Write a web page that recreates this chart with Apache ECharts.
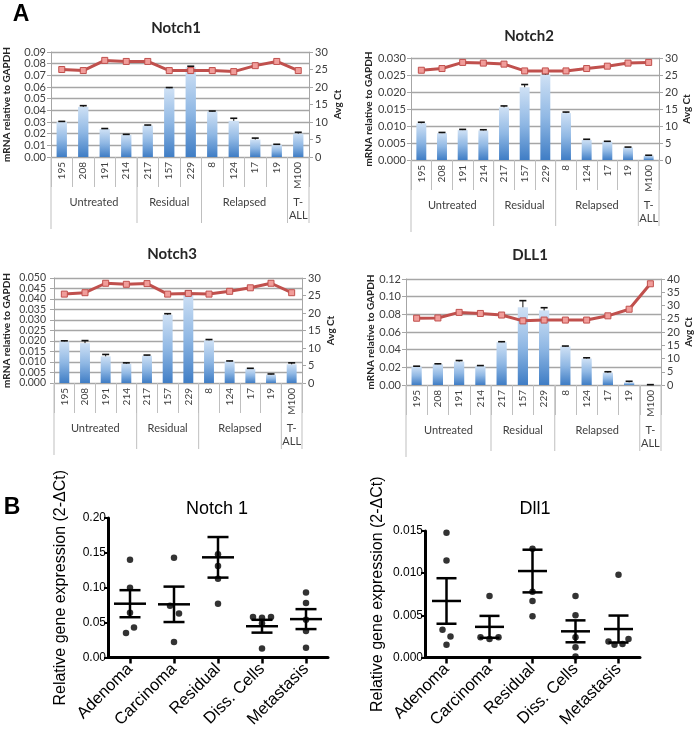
<!DOCTYPE html>
<html><head><meta charset="utf-8">
<script src="https://cdn.jsdelivr.net/npm/echarts@6/dist/echarts.min.js"></script>
<style>html,body{margin:0;padding:0;background:#fff}#c{width:699px;height:731px}</style>
</head><body><div id="c"></div>
<script>
// ---------- Panel A data ----------
const sampleIds = ['195','208','191','214','217','157','229','8','124','17','19','M100'];
const groupNames = ['Untreated','Residual','Relapsed','T-\nALL'];
const groupStart = [0,4,7,11];
const groupEnd = [4,7,11,12];

const notch1Expr = [0.030,0.043,0.024,0.019,0.027,0.059,0.077,0.039,0.031,0.015,0.0105,0.020];
const notch1Err  = [0.0005,0.001,0.0004,0.0004,0.0004,0.0005,0.0008,0.0004,0.0022,0.0012,0.0004,0.0012];
const notch1Ct   = [25.0,24.7,27.6,27.3,27.3,24.7,24.7,24.7,24.4,26.1,27.3,24.7];

const notch2Expr = [0.0108,0.0079,0.0088,0.0087,0.0155,0.0214,0.0251,0.0138,0.0059,0.0054,0.0037,0.0013];
const notch2Err  = [0.0003,0.0002,0.0002,0.0002,0.0004,0.0008,0.0003,0.0003,0.0002,0.0001,0.0001,0.0001];
const notch2Ct   = [26.4,26.9,28.7,28.5,28.2,26.2,26.2,26.2,26.9,27.6,28.5,28.7];

const notch3Expr = [0.0198,0.0190,0.0127,0.0092,0.0130,0.0325,0.0430,0.0203,0.0103,0.0068,0.0040,0.0089];
const notch3Err  = [0.0003,0.0012,0.0009,0.0004,0.0003,0.0005,0.0007,0.0004,0.0002,0.0002,0.0003,0.0007];
const notch3Ct   = [25.4,25.8,28.5,28.2,28.4,25.4,25.6,25.4,26.2,27.2,28.5,25.8];
const notch3Ticks = [0,0.005,0.010,0.015,0.020,0.025,0.030,0.035,0.040,0.045,0.050];

const dll1Expr = [0.0208,0.0235,0.0265,0.0216,0.0485,0.0880,0.0845,0.0436,0.0300,0.0140,0.0030,0.0002];
const dll1Err  = [0.0005,0.0005,0.0012,0.0004,0.0005,0.0075,0.0030,0.0005,0.0008,0.0010,0.0012,0.0002];
const dll1Ct   = [25.2,25.3,27.4,27.0,26.4,24.2,24.5,24.5,24.5,26.1,28.6,38.2];

// ---------- Panel B data ----------
const tissueCats = ['Adenoma','Carcinoma','Residual','Diss. Cells','Metastasis'];
const n1Adenoma = [0.140,0.100,0.064,0.043,0.035];
const n1Carcinoma = [0.143,0.074,0.063,0.022];
const n1Residual = [0.148,0.131,0.113,0.077];
const n1Diss = [0.058,0.057,0.058,0.049,0.013];
const n1Metastasis = [0.093,0.078,0.054,0.038,0.014];
const n1Mean = [0.0771,0.0762,0.1436,0.0448,0.0550];
const n1Sem  = [0.0194,0.0254,0.0291,0.0092,0.0143];

const d1Adenoma = [0.0148,0.0115,0.0033,0.0025,0.0015];
const d1Carcinoma = [0.0073,0.0024,0.0022,0.0024];
const d1Residual = [0.0129,0.0078,0.0067,0.0049];
const d1Diss = [0.0073,0.0050,0.0024,0.0012,0.0001];
const d1Metastasis = [0.0098,0.0019,0.0015,0.0016,0.0022];
const d1Mean = [0.0067,0.00363,0.01025,0.0031,0.00337];
const d1Sem  = [0.0027,0.0013,0.00253,0.0013,0.0016];

// dot jitter (style, pixels)
const n1Jitter = [[0,0,0,4,-4],[0,-4,5,0],[0,0,0,0],[-9,0,9,0,0],[0,0,0,0,0]];
const d1Jitter = [[0,0,-4,4,0],[0,-9,0,9],[0,0,0,0],[0,0,0,0,0],[0,-10,-4,4,10]];

// ---------- styling ----------
const FONT = 'Lato, "Open Sans", sans-serif';
const ARIAL = '"Liberation Sans", Arial, sans-serif';
const GRAY = '#404040';
const AXIS_GRAY = '#a6a6a6';

const grids = [], xAxes = [], yAxes = [], series = [];

function addBarPanel(cfg) {
  const gi = grids.length;
  grids.push({left: cfg.box[0], top: cfg.box[1], width: cfg.box[2], height: cfg.box[3]});
  const xi = xAxes.length;
  xAxes.push({
    type: 'category', gridIndex: gi, data: sampleIds, boundaryGap: true,
    axisLine: {show: true, lineStyle: {color: AXIS_GRAY}},
    axisTick: {show: true, interval: 0, length: 30, lineStyle: {color: '#bfbfbf'}},
    axisLabel: {interval: 0, rotate: 90, margin: 5, fontSize: 10, color: GRAY, fontFamily: FONT}
  });
  const yl = yAxes.length;
  yAxes.push({
    type: 'value', gridIndex: gi, position: 'left', min: 0, max: cfg.lMax, interval: cfg.lInt,
    name: 'mRNA relative to GAPDH', nameLocation: 'middle', nameGap: cfg.lGap,
    nameTextStyle: {fontWeight: 'bold', fontSize: 10, color: '#262626', fontFamily: FONT},
    axisLine: {show: true, lineStyle: {color: AXIS_GRAY}},
    axisTick: {show: true, length: 4, lineStyle: {color: AXIS_GRAY}},
    axisLabel: {show: !cfg.ticks, formatter: v => v.toFixed(cfg.lDec), fontSize: 11, lineHeight: 6,
      color: GRAY, fontFamily: FONT, margin: 5, showMinLabel: true, showMaxLabel: true, hideOverlap: false},
    splitLine: {show: true, lineStyle: {color: '#a6a6a6', width: 1.3}}
  });
  const yr = yAxes.length;
  yAxes.push({
    type: 'value', gridIndex: gi, position: 'right', min: 0, max: cfg.rMax, interval: 5,
    name: 'Avg Ct', nameLocation: 'middle', nameRotate: 90, nameGap: cfg.rGap,
    nameTextStyle: {fontWeight: 'bold', fontSize: 10, color: '#262626', fontFamily: FONT},
    axisLine: {show: true, lineStyle: {color: AXIS_GRAY}},
    axisTick: {show: true, length: 4, lineStyle: {color: AXIS_GRAY}},
    axisLabel: {fontSize: 11, lineHeight: 6, color: GRAY, fontFamily: FONT, margin: 6,
      showMinLabel: true, showMaxLabel: true, hideOverlap: false},
    splitLine: {show: false}
  });
  if (cfg.ticks) {
    // dense left tick labels drawn through the axis scale (avoids automatic overlap hiding)
    series.push({
      type: 'custom', xAxisIndex: xi, yAxisIndex: yl, clip: false, silent: true, z: 1,
      data: cfg.ticks.map(v => [0, v]),
      renderItem(p, api) {
        const bw = api.size([1, 0])[0];
        const c = api.coord([0, api.value(1)]);
        return {type: 'text', style: {text: api.value(1).toFixed(cfg.lDec), x: c[0] - bw / 2 - 8, y: c[1],
          align: 'right', verticalAlign: 'middle', textAlign: 'right', textVerticalAlign: 'middle',
          fill: GRAY, font: (cfg.lFont || 11) + 'px ' + FONT}};
      }
    });
  }
  series.push({
    type: 'bar', xAxisIndex: xi, yAxisIndex: yl, data: cfg.expr, barWidth: '48%', z: 2,
    itemStyle: {color: new echarts.graphic.LinearGradient(0, 0, 0, 1, [
      {offset: 0, color: '#cfe1f5'}, {offset: 0.5, color: '#90b8e4'}, {offset: 1, color: '#3f7dc5'}])}
  });
  series.push({
    type: 'custom', xAxisIndex: xi, yAxisIndex: yl, z: 3, silent: true,
    data: cfg.expr.map((v, i) => [i, v, cfg.err[i]]),
    renderItem(p, api) {
      const a = api.coord([api.value(0), api.value(1)]);
      const b = api.coord([api.value(0), api.value(1) + api.value(2)]);
      return {type: 'group', children: [
        {type: 'line', shape: {x1: a[0], y1: a[1], x2: b[0], y2: b[1]}, style: {stroke: '#111', lineWidth: 1}},
        {type: 'line', shape: {x1: b[0] - 3.5, y1: b[1], x2: b[0] + 3.5, y2: b[1]}, style: {stroke: '#111', lineWidth: 1.6}}
      ]};
    }
  });
  series.push({
    type: 'line', xAxisIndex: xi, yAxisIndex: yr, data: cfg.ct, z: 4,
    symbol: 'rect', symbolSize: 6, showSymbol: true,
    lineStyle: {color: '#c0504d', width: 3},
    itemStyle: {color: '#f19d9a', borderColor: '#c0504d', borderWidth: 1}
  });
  series.push({
    type: 'custom', xAxisIndex: xi, yAxisIndex: yl, clip: false, silent: true, z: 1,
    data: groupStart.map((s, i) => [s, groupEnd[i]]),
    renderItem(p, api) {
      const bw = api.size([1, 0])[0];
      const s = api.coord([api.value(0), 0]);
      const e = api.coord([api.value(1) - 1, 0]);
      const x0 = s[0] - bw / 2, x1 = e[0] + bw / 2, y0 = s[1];
      const ch = [
        {type: 'line', shape: {x1: x1, y1: y0, x2: x1, y2: y0 + 66}, style: {stroke: '#bfbfbf', lineWidth: 1}},
        {type: 'text', style: {text: groupNames[p.dataIndex], x: (x0 + x1) / 2, y: y0 + 39,
          align: 'center', verticalAlign: 'top', textAlign: 'center', textVerticalAlign: 'top',
          lineHeight: 13, fill: GRAY, font: '11px ' + FONT}}
      ];
      if (p.dataIndex === 0) ch.push({type: 'line', shape: {x1: x0, y1: y0, x2: x0, y2: y0 + 72}, style: {stroke: '#bfbfbf', lineWidth: 1}});
      return {type: 'group', children: ch};
    }
  });
}

function addScatterPanel(cfg) {
  const gi = grids.length;
  grids.push({left: cfg.box[0], top: cfg.box[1], width: cfg.box[2], height: cfg.box[3]});
  const xi = xAxes.length;
  xAxes.push({
    type: 'category', gridIndex: gi, data: tissueCats, boundaryGap: true,
    axisLine: {show: true, lineStyle: {color: '#000', width: 3}},
    axisTick: {show: true, alignWithLabel: true, length: 6, lineStyle: {color: '#000', width: 2.5}},
    axisLabel: {interval: 0, rotate: 45, margin: 9, fontSize: 16.5, color: '#000', fontFamily: ARIAL}
  });
  const yi = yAxes.length;
  yAxes.push({
    type: 'value', gridIndex: gi, min: 0, max: cfg.max, interval: cfg.int,
    name: 'Relative gene expression (2-ΔCt)', nameLocation: 'middle', nameGap: 39,
    nameTextStyle: {fontSize: 16, color: '#000', fontFamily: ARIAL},
    axisLine: {show: true, lineStyle: {color: '#000', width: 3}},
    axisTick: {show: true, length: 4, lineStyle: {color: '#000', width: 2}},
    axisLabel: {formatter: v => v.toFixed(cfg.dec), fontSize: 12, color: '#000', fontFamily: ARIAL, margin: 2,
      showMinLabel: true, showMaxLabel: true},
    splitLine: {show: false}
  });
  const pts = [];
  cfg.groups.forEach((vals, ci) => vals.forEach((v, k) => pts.push({value: [ci, v], symbolOffset: [cfg.jitter[ci][k], 0]})));
  series.push({type: 'scatter', xAxisIndex: xi, yAxisIndex: yi, data: pts, symbol: 'circle', symbolSize: 6.5,
    itemStyle: {color: '#000'}, z: 3, clip: false});
  series.push({
    type: 'custom', xAxisIndex: xi, yAxisIndex: yi, z: 4, silent: true, clip: false,
    data: cfg.mean.map((m, i) => [i, m, cfg.sem[i]]),
    renderItem(p, api) {
      const x = api.value(0), m = api.value(1), s = api.value(2);
      const c = api.coord([x, m]), t = api.coord([x, m + s]), b = api.coord([x, m - s]);
      const st = {stroke: '#000', lineWidth: 2.5};
      return {type: 'group', children: [
        {type: 'line', shape: {x1: c[0] - cfg.mw, y1: c[1], x2: c[0] + cfg.mw, y2: c[1]}, style: st},
        {type: 'line', shape: {x1: t[0], y1: t[1], x2: b[0], y2: b[1]}, style: st},
        {type: 'line', shape: {x1: t[0] - cfg.cw, y1: t[1], x2: t[0] + cfg.cw, y2: t[1]}, style: st},
        {type: 'line', shape: {x1: b[0] - cfg.cw, y1: b[1], x2: b[0] + cfg.cw, y2: b[1]}, style: st}
      ]};
    }
  });
}

addBarPanel({box: [51, 52, 258, 105], expr: notch1Expr, err: notch1Err, ct: notch1Ct, lMax: 0.09, lInt: 0.01, lDec: 2, rMax: 30, lGap: 39, rGap: 24});
addBarPanel({box: [411, 58, 248, 102], expr: notch2Expr, err: notch2Err, ct: notch2Ct, lMax: 0.030, lInt: 0.005, lDec: 3, rMax: 30, lGap: 31, rGap: 23});
addBarPanel({box: [54, 278, 248, 105], expr: notch3Expr, err: notch3Err, ct: notch3Ct, lMax: 0.050, lInt: 0.005, lDec: 3, rMax: 30, lGap: 42, rGap: 24, lFont: 10.5, ticks: notch3Ticks});
addBarPanel({box: [406, 279, 255, 106], expr: dll1Expr, err: dll1Err, ct: dll1Ct, lMax: 0.12, lInt: 0.02, lDec: 2, rMax: 40, lGap: 28, rGap: 22});

addScatterPanel({box: [108, 518, 220, 145], max: 0.20, int: 0.05, dec: 2,
  groups: [n1Adenoma, n1Carcinoma, n1Residual, n1Diss, n1Metastasis], jitter: n1Jitter,
  mean: n1Mean, sem: n1Sem, mw: 16, cw: 10.5});
addScatterPanel({box: [425, 531, 215, 133], max: 0.015, int: 0.005, dec: 3,
  groups: [d1Adenoma, d1Carcinoma, d1Residual, d1Diss, d1Metastasis], jitter: d1Jitter,
  mean: d1Mean, sem: d1Sem, mw: 14.5, cw: 10});

function label(text, x, y, font, fill) {
  return {type: 'text', x: x, y: y, silent: true,
    style: {text: text, font: font, fill: fill || '#000', align: 'center', verticalAlign: 'middle',
      textAlign: 'center', textVerticalAlign: 'middle'}};
}

const chart = echarts.init(document.getElementById('c'), null, {renderer: 'canvas'});
chart.setOption({
  animation: false,
  backgroundColor: '#fff',
  grid: grids, xAxis: xAxes, yAxis: yAxes, series: series,
  graphic: [
    label('A', 21, 15, 'bold 23px ' + ARIAL),
    label('Notch1', 176, 28, 'bold 15px ' + FONT, '#262626'),
    label('Notch2', 529, 36, 'bold 15px ' + FONT, '#262626'),
    label('Notch3', 172, 254, 'bold 15px ' + FONT, '#262626'),
    label('DLL1', 530, 255, 'bold 15px ' + FONT, '#262626'),
    label('B', 12, 508, 'bold 23px ' + ARIAL),
    label('Notch 1', 217, 509, '18px ' + ARIAL),
    label('Dll1', 535, 509, '18px ' + ARIAL)
  ]
});
</script></body></html>
